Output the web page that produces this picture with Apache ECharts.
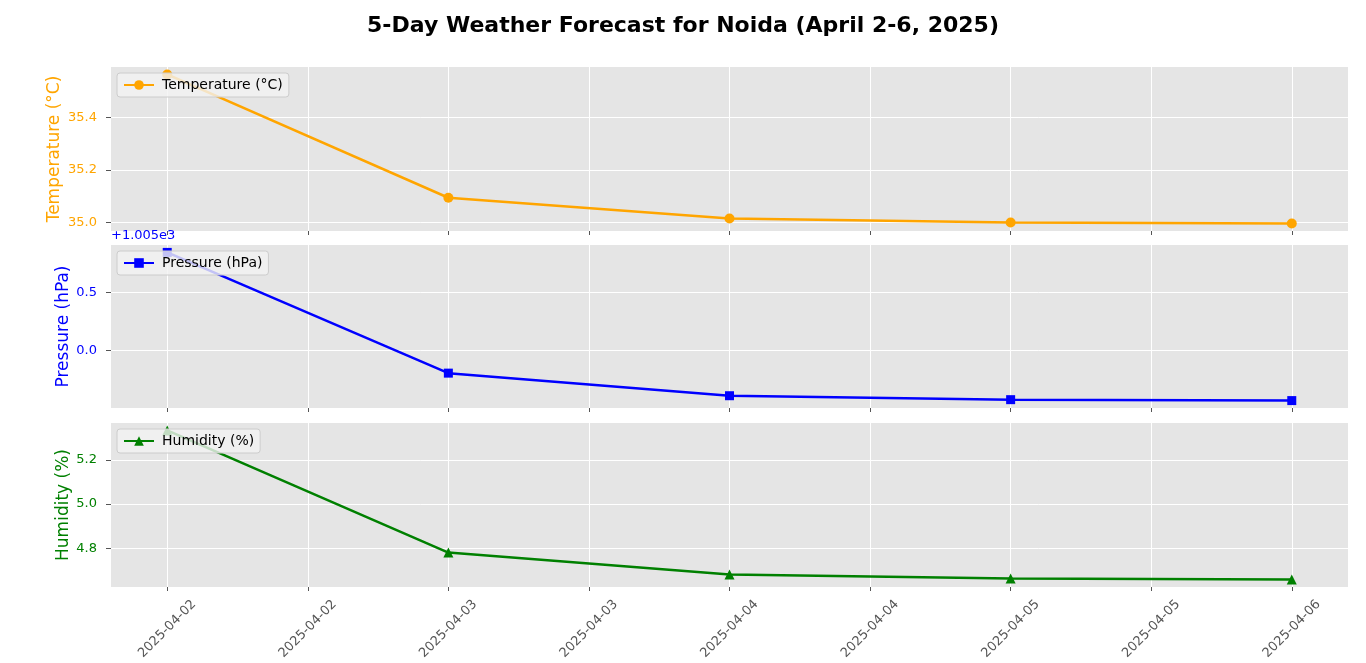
<!DOCTYPE html>
<html>
<head>
<meta charset="utf-8">
<script src="https://cdn.jsdelivr.net/npm/echarts@6/dist/echarts.min.js"></script>
<style>
	html, body {margin: 0; padding: 0; background: #fff;}
	#chart {width: 1366px; height: 663px;}
</style>
</head>
<body>
<div id="chart"></div>
<script>
// forecast data, one entry per day
var dayLabels = ['2025-04-02', '2025-04-03', '2025-04-04', '2025-04-05', '2025-04-06'];
var dayPos = [0, 1, 2, 3, 4];
var temperature = [35.562, 35.094, 35.015, 35.000, 34.996];
var pressure = [1005.847, 1004.805, 1004.610, 1004.576, 1004.568];
var humidity = [5.333, 4.780, 4.681, 4.663, 4.658];

// tick positions (x in days from first date)
var xTicks = [0, 0.5, 1, 1.5, 2, 2.5, 3, 3.5, 4];
var tempTicks = [35.0, 35.2, 35.4];
var presTicks = [1005.0, 1005.5];
var humTicks = [4.8, 5.0, 5.2];

var FONT = 'DejaVu Sans';
var panels = [
	{name: 'Temperature (°C)', color: '#FFA500', symbol: 'circle', size: 10, data: temperature, ticks: tempTicks, step: 0.2, top: 67, height: 164, gap: 48,
		fmt: function(v){ return v.toFixed(1); }},
	{name: 'Pressure (hPa)', color: '#0000FF', symbol: 'rect', size: 9, data: pressure, ticks: presTicks, step: 0.5, top: 245, height: 163, gap: 39,
		fmt: function(v){ return (v - 1005).toFixed(1); }},
	{name: 'Humidity (%)', color: '#008000', symbol: 'triangle', size: 10, data: humidity, ticks: humTicks, step: 0.2, top: 423, height: 164, gap: 39,
		fmt: function(v){ return v.toFixed(1); }}
];

var grids = [], xAxes = [], yAxes = [], series = [], legends = [];
panels.forEach(function(p, i){
	grids.push({left: 111, right: 18, top: p.top, height: p.height, show: true,
		backgroundColor: '#E5E5E5', borderWidth: 0, containLabel: false});
	xAxes.push({
		type: 'value', gridIndex: i,
		min: -0.2, max: 4.2, minInterval: 0.5, maxInterval: 0.5,
		axisLine: {show: false, onZero: false},
		axisTick: {show: true, length: 4, lineStyle: {color: '#555'}, customValues: xTicks},
		axisLabel: {
			show: i === 2, rotate: 45, margin: 42, customValues: xTicks,
			align: 'center', verticalAlign: 'middle',
			fontFamily: FONT, fontSize: 13, color: '#555',
			formatter: function(v){ return dayLabels[Math.floor(v + 1e-9)] || ''; }
		},
		splitLine: {show: true, lineStyle: {color: '#fff', width: 1}}
	});
	yAxes.push({
		type: 'value', gridIndex: i,
		min: function(v){ return v.min - 0.05 * (v.max - v.min); },
		max: function(v){ return v.max + 0.05 * (v.max - v.min); },
		minInterval: p.step, maxInterval: p.step,
		name: p.name, nameLocation: 'middle', nameGap: p.gap, nameMoveOverlap: false,
		nameTextStyle: {color: p.color, fontFamily: FONT, fontSize: 17},
		axisLine: {show: false, onZero: false},
		axisTick: {show: true, length: 5, lineStyle: {color: '#555'}, customValues: p.ticks},
		axisLabel: {color: p.color, fontFamily: FONT, fontSize: 13, margin: 14,
			customValues: p.ticks, formatter: p.fmt},
		splitLine: {show: true, lineStyle: {color: '#fff', width: 1}}
	});
	series.push({
		name: p.name, type: 'line', xAxisIndex: i, yAxisIndex: i,
		symbol: p.symbol, symbolSize: p.size,
		lineStyle: {color: p.color, width: 2.5},
		itemStyle: {color: p.color},
		data: dayPos.map(function(d, k){ return [d, p.data[k]]; })
	});
	legends.push({
		data: [p.name], left: 117, top: p.top + 6,
		orient: 'vertical', itemWidth: 30, itemHeight: 12, itemGap: 4,
		backgroundColor: 'rgba(242,242,242,0.8)', borderColor: '#cccccc', borderWidth: 1,
		borderRadius: 3, padding: [5, 6, 5, 6],
		textStyle: {fontFamily: FONT, fontSize: 14, color: '#000', padding: [0, 0, 0, 3]}
	});
});

var chart = echarts.init(document.getElementById('chart'));
chart.setOption({
	animation: false,
	textStyle: {fontFamily: FONT},
	title: {
		text: '5-Day Weather Forecast for Noida (April 2-6, 2025)',
		left: 'center', top: 10,
		textStyle: {fontFamily: FONT, fontSize: 22, fontWeight: 'bold', color: '#000'}
	},
	graphic: [{
		type: 'text', left: 111, top: 229,
		style: {text: '+1.005e3', fill: '#0000FF', font: '13px "DejaVu Sans"'}
	}],
	legend: legends,
	grid: grids,
	xAxis: xAxes,
	yAxis: yAxes,
	series: series
});
</script>
</body>
</html>
